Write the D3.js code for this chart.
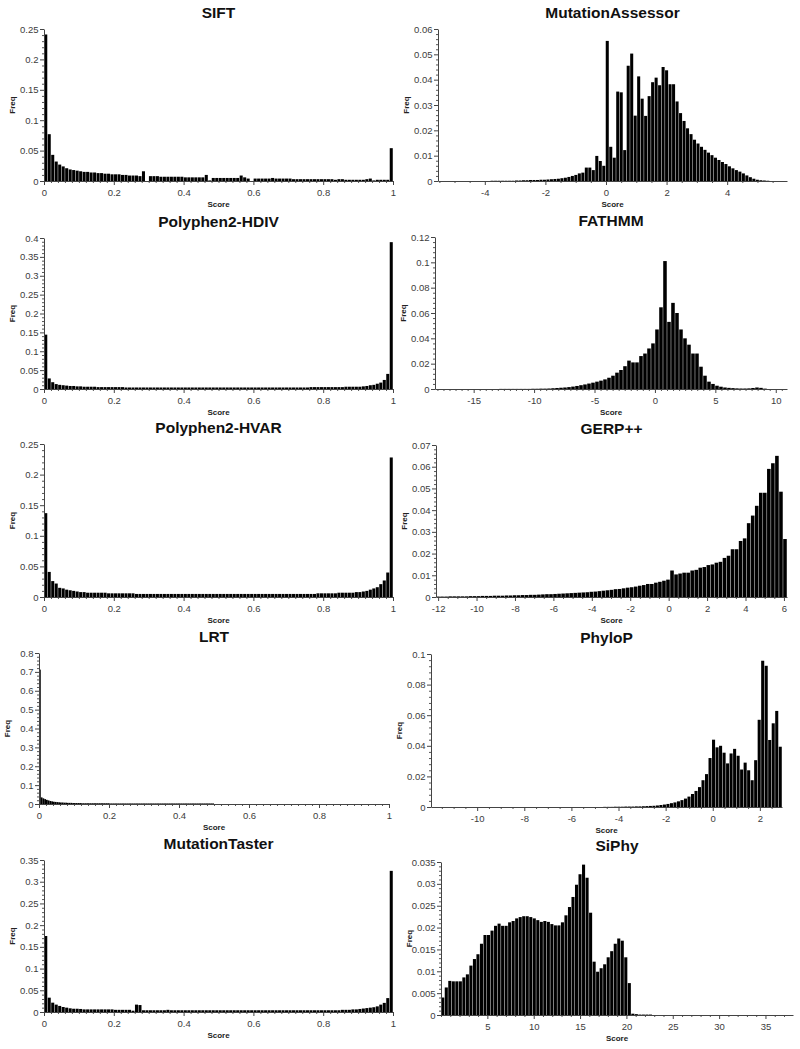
<!DOCTYPE html>
<html>
<head>
<meta charset="utf-8">
<script src="https://cdn.jsdelivr.net/npm/d3@7"></script>
<style>
  body { margin: 0; background: #fff; }
</style>
</head>
<body>
<div id="container"></div>
<script>
// bin frequencies, one array per score
const siftFreq = [
  0.241, 0.077, 0.043, 0.032, 0.027, 0.024, 0.021, 0.019, 0.018, 0.017,
  0.016, 0.015, 0.015, 0.014, 0.014, 0.013, 0.013, 0.012, 0.012, 0.011,
  0.011, 0.011, 0.010, 0.010, 0.009, 0.009, 0.009, 0.008, 0.016, 0.000,
  0.008, 0.008, 0.008, 0.007, 0.007, 0.007, 0.007, 0.007, 0.007, 0.007,
  0.006, 0.006, 0.006, 0.006, 0.006, 0.006, 0.010, 0.001, 0.005, 0.005,
  0.005, 0.005, 0.005, 0.005, 0.005, 0.005, 0.009, 0.006, 0.004, 0.000,
  0.004, 0.004, 0.004, 0.004, 0.004, 0.005, 0.004, 0.004, 0.004, 0.004,
  0.004, 0.003, 0.003, 0.003, 0.003, 0.003, 0.003, 0.003, 0.003, 0.003,
  0.003, 0.003, 0.003, 0.002, 0.003, 0.003, 0.002, 0.002, 0.002, 0.002,
  0.002, 0.002, 0.003, 0.004, 0.001, 0.002, 0.002, 0.002, 0.002, 0.054
];
const hdivFreq = [
  0.144, 0.028, 0.018, 0.013, 0.011, 0.010, 0.009, 0.008, 0.008, 0.007,
  0.007, 0.006, 0.006, 0.006, 0.006, 0.005, 0.005, 0.005, 0.005, 0.005,
  0.005, 0.005, 0.005, 0.004, 0.004, 0.004, 0.004, 0.004, 0.004, 0.004,
  0.004, 0.004, 0.004, 0.004, 0.004, 0.004, 0.004, 0.004, 0.004, 0.004,
  0.004, 0.004, 0.004, 0.004, 0.004, 0.004, 0.004, 0.004, 0.004, 0.004,
  0.004, 0.004, 0.004, 0.004, 0.004, 0.004, 0.004, 0.004, 0.004, 0.004,
  0.004, 0.004, 0.004, 0.004, 0.004, 0.004, 0.004, 0.004, 0.004, 0.004,
  0.004, 0.004, 0.004, 0.004, 0.004, 0.004, 0.005, 0.005, 0.005, 0.005,
  0.005, 0.005, 0.005, 0.005, 0.005, 0.005, 0.006, 0.006, 0.006, 0.006,
  0.006, 0.007, 0.008, 0.010, 0.011, 0.014, 0.017, 0.024, 0.040, 0.389
];
const hvarFreq = [
  0.137, 0.041, 0.026, 0.022, 0.015, 0.014, 0.012, 0.011, 0.010, 0.009,
  0.008, 0.008, 0.007, 0.007, 0.007, 0.007, 0.007, 0.007, 0.006, 0.006,
  0.006, 0.006, 0.006, 0.006, 0.006, 0.006, 0.005, 0.005, 0.005, 0.005,
  0.005, 0.005, 0.005, 0.005, 0.005, 0.005, 0.005, 0.005, 0.005, 0.005,
  0.005, 0.005, 0.005, 0.005, 0.005, 0.005, 0.005, 0.005, 0.005, 0.005,
  0.005, 0.005, 0.005, 0.005, 0.005, 0.005, 0.005, 0.005, 0.005, 0.005,
  0.005, 0.005, 0.005, 0.005, 0.005, 0.005, 0.005, 0.005, 0.005, 0.005,
  0.005, 0.005, 0.005, 0.005, 0.005, 0.005, 0.005, 0.005, 0.006, 0.006,
  0.006, 0.006, 0.006, 0.006, 0.007, 0.007, 0.007, 0.007, 0.007, 0.008,
  0.008, 0.009, 0.010, 0.012, 0.014, 0.016, 0.021, 0.027, 0.040, 0.228
];
const lrtFreq = [
  0.712, 0.035, 0.030, 0.026, 0.022, 0.019, 0.016, 0.014, 0.012, 0.011,
  0.010, 0.009, 0.008, 0.008, 0.007, 0.007, 0.006, 0.006, 0.006, 0.005,
  0.005, 0.005, 0.005, 0.005, 0.004, 0.004, 0.004, 0.004, 0.004, 0.004,
  0.004, 0.004, 0.004, 0.004, 0.004, 0.004, 0.004, 0.004, 0.004, 0.004,
  0.003, 0.003, 0.003, 0.003, 0.003, 0.003, 0.003, 0.003, 0.003, 0.003,
  0.003, 0.003, 0.003, 0.003, 0.003, 0.003, 0.003, 0.003, 0.003, 0.003,
  0.003, 0.003, 0.003, 0.003, 0.003, 0.003, 0.003, 0.003, 0.003, 0.003,
  0.003, 0.003, 0.003, 0.003, 0.003, 0.003, 0.003, 0.003, 0.003, 0.003,
  0.003, 0.003, 0.003, 0.003, 0.003, 0.003, 0.003, 0.003, 0.003, 0.003,
  0.003, 0.003, 0.003, 0.003, 0.003, 0.003, 0.003, 0.003, 0.003, 0.003
];
const mtasterFreq = [
  0.175, 0.033, 0.0215, 0.017, 0.014, 0.0115, 0.010, 0.0085, 0.0075, 0.0075,
  0.007, 0.006, 0.006, 0.006, 0.006, 0.006, 0.006, 0.006, 0.006, 0.006,
  0.005, 0.005, 0.005, 0.005, 0.005, 0.003, 0.017, 0.016, 0.004, 0.004,
  0.004, 0.004, 0.004, 0.004, 0.004, 0.005, 0.004, 0.004, 0.004, 0.004,
  0.004, 0.004, 0.004, 0.004, 0.004, 0.004, 0.004, 0.004, 0.004, 0.004,
  0.004, 0.004, 0.004, 0.004, 0.004, 0.004, 0.004, 0.004, 0.004, 0.004,
  0.004, 0.004, 0.004, 0.004, 0.004, 0.004, 0.004, 0.004, 0.004, 0.004,
  0.004, 0.004, 0.004, 0.004, 0.004, 0.004, 0.004, 0.004, 0.004, 0.004,
  0.004, 0.004, 0.004, 0.004, 0.004, 0.005, 0.005, 0.005, 0.006, 0.006,
  0.007, 0.008, 0.009, 0.010, 0.011, 0.013, 0.017, 0.021, 0.032, 0.325
];
const massessorFreq = [
  0, 0, 0, 0, 0, 0, 0, 0, 0, 0,
  0, 0, 0, 0, 0, 0.0001, 0.0001, 0.0001, 0.0001, 0.0001,
  0.0001, 0.0001, 0.0002, 0.0002, 0.0003, 0.0003, 0.0004, 0.0004, 0.0004, 0.0005,
  0.0005, 0.0006, 0.0007, 0.0008, 0.0009, 0.0011, 0.0013, 0.0016, 0.002, 0.0024,
  0.003, 0.0033, 0.0053, 0.0053, 0.0043, 0.0099, 0.0079, 0.006, 0.0553, 0.0135,
  0.0092, 0.0353, 0.035, 0.0122, 0.0455, 0.0503, 0.0258, 0.0413, 0.0325, 0.0257,
  0.0335, 0.039, 0.0408, 0.0378, 0.045, 0.0437, 0.0382, 0.0382, 0.0314, 0.0268,
  0.0237, 0.0208, 0.0185, 0.0163, 0.0148, 0.0135, 0.0123, 0.0112, 0.0102, 0.0092,
  0.0083, 0.0075, 0.0067, 0.0058, 0.005, 0.0043, 0.0037, 0.003, 0.0022, 0.0015,
  0.0009, 0.0005, 0.0003, 0.0002, 0.0001, 0, 0, 0, 0, 0
];
const fathmmFreq = [
  0, 0, 0, 0, 0, 0, 0, 0, 0, 0,
  0, 0, 0, 0, 0, 0, 0.0001, 0.0001, 0.0001, 0.0001,
  0.0001, 0.0001, 0.0001, 0.0001, 0.0002, 0.0002, 0.0003, 0.0003, 0.0004, 0.0006,
  0.0008, 0.001, 0.0012, 0.0015, 0.0019, 0.0024, 0.003, 0.0036, 0.0043, 0.005,
  0.0058, 0.0066, 0.0076, 0.0089, 0.0105, 0.0129, 0.015, 0.018, 0.0224, 0.021,
  0.021, 0.026, 0.028, 0.032, 0.036, 0.047, 0.0645, 0.101, 0.053, 0.068,
  0.060, 0.047, 0.040, 0.035, 0.028, 0.028, 0.0176, 0.0105, 0.0058, 0.004,
  0.0026, 0.0018, 0.0012, 0.0009, 0.0007, 0.0005, 0.0004, 0.0004, 0.0005, 0.0008,
  0.0012, 0.0009, 0.0003, 0, 0, 0, 0, 0
];
const gerpFreq = [
  0.0002, 0.0002, 0.0002, 0.0003, 0.0003, 0.0003, 0.0003, 0.0003, 0.0004, 0.0004,
  0.0004, 0.0005, 0.0005, 0.0005, 0.0006, 0.0006, 0.0006, 0.0007, 0.0007, 0.0008,
  0.0008, 0.0009, 0.0009, 0.001, 0.001, 0.0011, 0.0012, 0.0013, 0.0013, 0.0014,
  0.0015, 0.0016, 0.0017, 0.0018, 0.0019, 0.002, 0.0021, 0.0022, 0.0024, 0.0025,
  0.0027, 0.0029, 0.0031, 0.0033, 0.0036, 0.0037, 0.004, 0.0043, 0.0045, 0.0048,
  0.0052, 0.0055, 0.006, 0.006, 0.0066, 0.007, 0.0075, 0.008, 0.0122, 0.0104,
  0.0108, 0.0112, 0.0112, 0.0122, 0.0125, 0.0135, 0.0138, 0.0147, 0.015, 0.0158,
  0.0162, 0.018, 0.019, 0.022, 0.022, 0.0258, 0.027, 0.034, 0.0375, 0.042,
  0.048, 0.048, 0.059, 0.0616, 0.065, 0.0485, 0.0267
];
const phylopFreq = [
  0, 0, 0, 0, 0, 0, 0, 0, 0, 0,
  0, 0, 0, 0, 0, 0, 0, 0, 0, 0,
  0, 0, 0, 0, 0, 0, 0, 0, 0, 0,
  0, 0, 0, 0, 0, 0, 0, 0, 0, 0,
  0, 0, 0, 0, 0, 0, 0, 0, 0, 0.0001,
  0.0001, 0.0001, 0.0002, 0.0002, 0.0002, 0.0003, 0.0003, 0.0003, 0.0004, 0.0004,
  0.0005, 0.0006, 0.0007, 0.0008, 0.001, 0.0013, 0.0016, 0.002, 0.0025, 0.003,
  0.0037, 0.0045, 0.0055, 0.0068, 0.0085, 0.0105, 0.013, 0.0175, 0.0215, 0.032,
  0.044, 0.039, 0.040, 0.0355, 0.0285, 0.035, 0.038, 0.0335, 0.0245, 0.029,
  0.024, 0.0175, 0.0306, 0.057, 0.0956, 0.0923, 0.0438, 0.0547, 0.0628, 0.0394
];
const siphyFreq = [
  0.004, 0.0063, 0.0078, 0.0077, 0.0077, 0.0077, 0.0086, 0.0093, 0.0113, 0.0128,
  0.0139, 0.0163, 0.0183, 0.0183, 0.0193, 0.0204, 0.0209, 0.0204, 0.0204, 0.0212,
  0.0215, 0.0221, 0.0224, 0.0226, 0.0226, 0.0224, 0.0221, 0.0217, 0.0213, 0.0215,
  0.0213, 0.0208, 0.0205, 0.0205, 0.0212, 0.0228, 0.0247, 0.027, 0.0298, 0.0322,
  0.0344, 0.0314, 0.0234, 0.0122, 0.0099, 0.0107, 0.0116, 0.0132, 0.0146, 0.0163,
  0.0175, 0.017, 0.0132, 0.0073, 0.0003, 0.0002, 0.0001, 0.0001, 0.0001, 0.0001,
  0, 0, 0, 0, 0, 0, 0, 0, 0, 0,
  0, 0, 0, 0, 0, 0, 0, 0, 0, 0,
  0, 0, 0, 0, 0, 0, 0, 0, 0, 0,
  0, 0, 0, 0, 0, 0, 0, 0, 0, 0
];

// tick labels
const unitTicks = [0, 0.2, 0.4, 0.6, 0.8, 1];
const siftYTicks = [0, 0.05, 0.1, 0.15, 0.2, 0.25];
const hdivYTicks = [0, 0.05, 0.1, 0.15, 0.2, 0.25, 0.3, 0.35, 0.4];
const hvarYTicks = [0, 0.05, 0.1, 0.15, 0.2, 0.25];
const lrtYTicks = [0, 0.1, 0.2, 0.3, 0.4, 0.5, 0.6, 0.7, 0.8];
const mtasterYTicks = [0, 0.05, 0.1, 0.15, 0.2, 0.25, 0.3, 0.35];
const maXTicks = [-4, -2, 0, 2, 4];
const maYTicks = [0, 0.01, 0.02, 0.03, 0.04, 0.05, 0.06];
const fathmmXTicks = [-15, -10, -5, 0, 5, 10];
const fathmmYTicks = [0, 0.02, 0.04, 0.06, 0.08, 0.1, 0.12];
const gerpXTicks = [-12, -10, -8, -6, -4, -2, 0, 2, 4, 6];
const gerpYTicks = [0, 0.01, 0.02, 0.03, 0.04, 0.05, 0.06, 0.07];
const phylopXTicks = [-10, -8, -6, -4, -2, 0, 2];
const phylopYTicks = [0, 0.02, 0.04, 0.06, 0.08, 0.1];
const siphyXTicks = [5, 10, 15, 20, 25, 30, 35];
const siphyYTicks = [0, 0.005, 0.01, 0.015, 0.02, 0.025, 0.03, 0.035];

// score ranges and bin widths
const panels = [
  { title: "SIFT", freq: siftFreq, domain: [0, 1], start: 0, bin: 0.01, xTicks: unitTicks, xMinor: 0.02, yTicks: siftYTicks,
    box: [44, 393, 29, 181] },
  { title: "MutationAssessor", freq: massessorFreq, domain: [-5.545, 5.975], start: -5.545, bin: 0.1152, xTicks: maXTicks, xMinor: 0.5, yTicks: maYTicks,
    box: [438, 787, 29, 181] },
  { title: "Polyphen2-HDIV", freq: hdivFreq, domain: [0, 1], start: 0, bin: 0.01, xTicks: unitTicks, xMinor: 0.02, yTicks: hdivYTicks,
    box: [44, 393, 238, 389] },
  { title: "FATHMM", freq: fathmmFreq, domain: [-18.2, 10.93], start: -18.2, bin: 0.331, xTicks: fathmmXTicks, xMinor: 0.5, yTicks: fathmmYTicks,
    box: [435, 787, 237, 389] },
  { title: "Polyphen2-HVAR", freq: hvarFreq, domain: [0, 1], start: 0, bin: 0.01, xTicks: unitTicks, xMinor: 0.02, yTicks: hvarYTicks,
    box: [44, 393, 444, 597] },
  { title: "GERP++", freq: gerpFreq, domain: [-12.11, 6.16], start: -12.11, bin: 0.21, xTicks: gerpXTicks, xMinor: 0.5, yTicks: gerpYTicks,
    box: [436, 787, 445, 597] },
  { title: "LRT", freq: lrtFreq, domain: [0, 1], start: 0, bin: 0.005, xTicks: unitTicks, xMinor: 0.02, yTicks: lrtYTicks,
    box: [39, 389, 653, 804] },
  { title: "PhyloP", freq: phylopFreq, domain: [-11.96, 2.94], start: -11.96, bin: 0.149, xTicks: phylopXTicks, xMinor: 0.5, yTicks: phylopYTicks,
    box: [431, 782, 654, 807] },
  { title: "MutationTaster", freq: mtasterFreq, domain: [0, 1], start: 0, bin: 0.01, xTicks: unitTicks, xMinor: 0.02, yTicks: mtasterYTicks,
    box: [44, 393, 860, 1012] },
  { title: "SiPhy", freq: siphyFreq, domain: [0, 37.97], start: 0, bin: 0.3797, xTicks: siphyXTicks, xMinor: 1, yTicks: siphyYTicks,
    box: [441, 793, 862, 1015] }
];

const width = 800;
const height = 1049;
const font = "'Liberation Sans', Arial, Helvetica, sans-serif";

const svg = d3.create("svg")
  .attr("width", width)
  .attr("height", height)
  .attr("font-family", font);

const minorValues = (lo, hi, step, majors) => {
  const out = [];
  const n0 = Math.ceil(lo / step - 1e-9);
  const n1 = Math.floor(hi / step + 1e-9);
  for (let n = n0; n <= n1; n++) {
    const v = +(n * step).toFixed(6);
    if (!majors.some(m => Math.abs(m - v) < 1e-9)) out.push(v);
  }
  return out;
};

panels.forEach(p => {
  const [left, right, top, bottom] = p.box;
  const yMax = p.yTicks[p.yTicks.length - 1];

  const x = d3.scaleLinear().domain(p.domain).range([left, right]);
  const y = d3.scaleLinear().domain([0, yMax]).range([bottom, top]);

  const g = svg.append("g");

  const bins = p.freq.map((f, i) => ({
    x0: p.start + i * p.bin,
    x1: Math.min(p.start + (i + 1) * p.bin, p.domain[1]),
    f
  })).filter(d => d.f > 0);

  const binPx = x(p.start + p.bin) - x(p.start);
  const gap = binPx > 3 ? 0.45 : 0;

  g.append("g")
    .attr("fill", "#000")
    .selectAll("rect")
    .data(bins)
    .join("rect")
    .attr("x", d => x(d.x0) + gap / 2)
    .attr("width", d => Math.max(0.4, x(d.x1) - x(d.x0) - gap))
    .attr("y", d => y(d.f))
    .attr("height", d => y(0) - y(d.f));

  // minor ticks
  g.append("g")
    .attr("transform", `translate(0,${bottom})`)
    .call(d3.axisBottom(x)
      .tickValues(minorValues(p.domain[0], p.domain[1], p.xMinor, p.xTicks))
      .tickSize(2).tickSizeOuter(0).tickFormat(""))
    .call(a => a.select(".domain").remove())
    .call(a => a.selectAll("line").attr("stroke", "#555"));

  const yStep = p.yTicks[1] / 5;
  g.append("g")
    .attr("transform", `translate(${left},0)`)
    .call(d3.axisLeft(y)
      .tickValues(minorValues(0, yMax, yStep, p.yTicks))
      .tickSize(2).tickSizeOuter(0).tickFormat(""))
    .call(a => a.select(".domain").remove())
    .call(a => a.selectAll("line").attr("stroke", "#555"));

  // major axes
  g.append("g")
    .attr("transform", `translate(0,${bottom})`)
    .call(d3.axisBottom(x)
      .tickValues(p.xTicks)
      .tickSize(4).tickSizeOuter(0).tickPadding(4.5)
      .tickFormat(d => String(d)))
    .call(a => a.select(".domain").attr("stroke", "#444"))
    .call(a => a.selectAll("line").attr("stroke", "#444"))
    .call(a => a.selectAll("text")
      .attr("font-size", 9.5).attr("font-family", font).attr("fill", "#3c3c3c"));

  g.append("g")
    .attr("transform", `translate(${left},0)`)
    .call(d3.axisLeft(y)
      .tickValues(p.yTicks)
      .tickSize(4).tickSizeOuter(0).tickPadding(1.5)
      .tickFormat(d => String(d)))
    .call(a => a.select(".domain").attr("stroke", "#444"))
    .call(a => a.selectAll("line").attr("stroke", "#444"))
    .call(a => a.selectAll("text")
      .attr("font-size", 9.5).attr("font-family", font).attr("fill", "#3c3c3c"));

  g.append("text")
    .attr("x", (left + right) / 2)
    .attr("y", top - 11)
    .attr("text-anchor", "middle")
    .attr("font-size", "15.5px")
    .attr("font-weight", "bold")
    .attr("fill", "#111")
    .text(p.title);

  g.append("text")
    .attr("x", (left + right) / 2)
    .attr("y", bottom + 25.5)
    .attr("text-anchor", "middle")
    .attr("font-size", "8px")
    .attr("font-weight", "bold")
    .attr("fill", "#222")
    .text("Score");

  g.append("text")
    .attr("transform", `translate(${left - 29},${(top + bottom) / 2}) rotate(-90)`)
    .attr("text-anchor", "middle")
    .attr("font-size", "8px")
    .attr("font-weight", "bold")
    .attr("fill", "#222")
    .text("Freq");
});

d3.select("#container").append(() => svg.node());
</script>
</body>
</html>
